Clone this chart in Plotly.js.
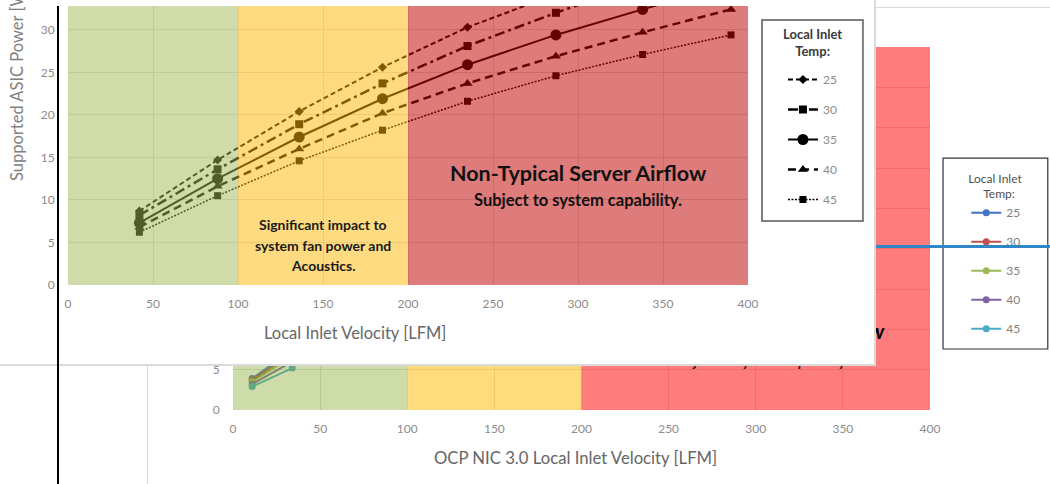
<!DOCTYPE html>
<html><head><meta charset="utf-8">
<script src="https://cdn.plot.ly/plotly-3.0.1.min.js"></script>
<style>
html,body{margin:0;padding:0;width:1050px;height:484px;overflow:hidden;background:#fff;}
#back{position:absolute;left:147px;top:7px;width:903px;height:477px;border-left:1px solid #d9d9d9;border-top:1px solid #d9d9d9;box-sizing:border-box;background:#fff;}
#backPlot{width:902px;height:476px;}
#frontWrap{position:absolute;left:0;top:0;width:876px;height:366px;border-right:2px solid #dadada;border-bottom:2px solid #dadada;box-sizing:border-box;background:#fff;}
#front{width:874px;height:364px;}
#blackline{position:absolute;left:57px;top:6px;width:2px;height:478px;background:#000;}
#blueline{position:absolute;left:876px;top:245px;width:174px;height:3px;background:#2f87c6;}
</style></head>
<body>
<div id="back"><div id="backPlot"></div></div>
<div id="frontWrap"><div id="front"></div></div>
<div id="blackline"></div>
<div id="blueline"></div>
<script>
// ---------- data ----------
const temps = ['25', '30', '35', '40', '45'];
const xTicks = [0, 50, 100, 150, 200, 250, 300, 350, 400];
const zoneEdges = [0, 100, 200, 400];

// front chart (Supported ASIC power vs local inlet velocity)
const frontX = [42, 88, 136, 185, 235, 287, 338, 390];
const front25 = [8.7, 14.7, 20.4, 25.6, 30.3, 34.3, 38.0, 41.5];
const front30 = [8.2, 13.6, 18.9, 23.7, 28.1, 32.0, 35.6, 39.0];
const front35 = [7.3, 12.5, 17.4, 21.9, 25.9, 29.4, 32.4, 35.4];
const front40 = [6.8, 11.6, 16.0, 20.2, 23.7, 26.9, 29.7, 32.4];
const front45 = [6.2, 10.5, 14.6, 18.2, 21.6, 24.6, 27.1, 29.4];
const frontYTicks = [0, 5, 10, 15, 20, 25, 30];

// back chart (OCP NIC 3.0 version)
const backX = [11, 34];
const back25 = [3.9, 7.4];
const back30 = [3.7, 7.0];
const back35 = [3.5, 6.6];
const back40 = [3.2, 6.0];
const back45 = [2.9, 5.2];
const backYTicks = [0, 5, 10, 15, 20, 25, 30, 35, 40, 45];

// ---------- styles ----------
const FONT = 'Lato, "Open Sans", sans-serif';
const NB = '\u00a0';
const frontSeries = [front25, front30, front35, front40, front45];
const frontStyle = [
  {dash: '5px,3px', width: 2, symbol: 'diamond', size: 7},
  {dash: '10px,4px,3px,4px', width: 2.5, symbol: 'square', size: 8},
  {dash: 'solid', width: 2, symbol: 'circle', size: 11},
  {dash: '8px,5px', width: 2.5, symbol: 'triangle-up', size: 9},
  {dash: '2px,1.5px', width: 1.5, symbol: 'square', size: 7}
];
const backSeries = [back25, back30, back35, back40, back45];
const backColors = ['#4472c4', '#c0504d', '#9bbb59', '#8064a2', '#4bacc6'];

// ---------- front chart ----------
const frontTraces = frontSeries.map((ys, i) => ({
  type: 'scatter', mode: 'lines+markers', name: temps[i], legendgroup: 'f' + i,
  x: frontX, y: ys,
  line: {color: '#000', width: frontStyle[i].width, dash: frontStyle[i].dash},
  marker: {color: '#000', symbol: frontStyle[i].symbol, size: frontStyle[i].size}
}));
const frontFills = [
  {fill: 'rgb(159,183,83)', op: 0.5},
  {fill: 'rgb(253,183,1)', op: 0.5},
  {fill: 'rgb(192,1,1)', op: 0.52}
];
const frontShapes = frontFills.map((f, i) => ({
  type: 'rect', xref: 'x', yref: 'paper', x0: zoneEdges[i], x1: zoneEdges[i + 1], y0: 0, y1: 1,
  fillcolor: f.fill, opacity: f.op, line: {width: 0}, layer: 'above'
}));
frontShapes.push({type: 'rect', xref: 'paper', yref: 'paper', x0: 1.0206, x1: 1.169, y0: 0.229, y1: 0.95,
  line: {color: '#7f7f7f', width: 2}, fillcolor: 'rgba(0,0,0,0)', layer: 'above'});

const frontLayout = {
  width: 874, height: 364, margin: {l: 68, r: 126, t: 6, b: 79},
  paper_bgcolor: '#fff', plot_bgcolor: '#fff', font: {family: FONT},
  xaxis: {range: [0, 400], tickvals: xTicks, ticks: 'outside', ticklen: 8, tickcolor: 'rgba(0,0,0,0)',
    showgrid: true, gridcolor: 'rgb(222,222,222)', zeroline: false, showline: false,
    tickfont: {size: 12, color: '#8c8c8c', family: FONT}},
  yaxis: {range: [0, 32.8], tickvals: frontYTicks, ticks: 'outside', ticklen: 10, tickcolor: 'rgba(0,0,0,0)',
    showgrid: true, gridcolor: 'rgb(222,222,222)', zeroline: false, showline: false,
    tickfont: {size: 12, color: '#8c8c8c', family: FONT}},
  showlegend: true,
  legend: {x: 1.0514, xanchor: 'left', y: 0.5215, yanchor: 'middle', bgcolor: 'rgba(0,0,0,0)', borderwidth: 0,
    tracegroupgap: 11, font: {size: 12, color: '#8c8c8c', family: FONT}},
  shapes: frontShapes,
  annotations: [
    {xref: 'paper', yref: 'paper', x: 1.0949, y: 0.8674, xanchor: 'center', yanchor: 'middle', text: '<b>Local Inlet</b><br><b>Temp:</b>', showarrow: false, font: {size: 13, color: '#3a3a3a', family: FONT}},
    {xref: 'x', yref: 'y', x: 150, y: 7.06, text: '<b>Significant impact to</b>', showarrow: false, font: {size: 14, color: '#1a1a1a', family: FONT}},
    {xref: 'x', yref: 'y', x: 150, y: 4.7, text: '<b>system fan power and</b>', showarrow: false, font: {size: 14, color: '#1a1a1a', family: FONT}},
    {xref: 'x', yref: 'y', x: 150, y: 2.35, text: '<b>Acoustics.</b>', showarrow: false, font: {size: 14, color: '#1a1a1a', family: FONT}},
    {xref: 'x', yref: 'y', x: 300, y: 13.2, text: '<b>Non-Typical Server Airflow</b>', showarrow: false, font: {size: 21.5, color: '#111', family: FONT}},
    {xref: 'x', yref: 'y', x: 300, y: 10.0, text: '<b>Subject to system capability.</b>', showarrow: false, font: {size: 16.5, color: '#111', family: FONT}},
    {xref: 'paper', yref: 'paper', x: 0.422, y: -0.172, xanchor: 'center', yanchor: 'middle', text: 'Local Inlet Velocity [LFM]', showarrow: false, font: {size: 16.5, color: '#666', family: FONT}},
    {xref: 'paper', yref: 'paper', x: -0.075, y: 0.724, xanchor: 'center', yanchor: 'middle', text: 'Supported ASIC Power [W]', textangle: -90, showarrow: false, font: {size: 16.5, color: '#808080', family: FONT}}
  ]
};

// ---------- back chart ----------
const backTraces = backSeries.map((ys, i) => ({
  type: 'scatter', mode: 'lines+markers', name: temps[i], legendgroup: 'b' + i,
  x: backX, y: ys,
  line: {color: backColors[i], width: 2},
  marker: {color: backColors[i], symbol: 'circle', size: 7}
}));
const backFills = [
  {fill: 'rgb(130,167,37)', op: 0.4},
  {fill: 'rgb(253,191,20)', op: 0.55},
  {fill: 'rgb(255,17,17)', op: 0.55}
];
const backShapes = backFills.map((f, i) => ({
  type: 'rect', xref: 'x', yref: 'paper', x0: zoneEdges[i], x1: zoneEdges[i + 1], y0: 0, y1: 1,
  fillcolor: f.fill, opacity: f.op, line: {width: 0}, layer: 'above'
}));
backShapes.push({type: 'rect', xref: 'paper', yref: 'paper', x0: 1.0187, x1: 1.169, y0: 0.168, y1: 0.694,
  line: {color: '#333', width: 1.2}, fillcolor: 'rgba(0,0,0,0)', layer: 'above'});

const backLayout = {
  width: 902, height: 476, margin: {l: 85, r: 120, t: 39, b: 74},
  paper_bgcolor: '#fff', plot_bgcolor: '#fff', font: {family: FONT},
  xaxis: {range: [0, 400], tickvals: xTicks, ticks: 'outside', ticklen: 8, tickcolor: 'rgba(0,0,0,0)',
    showgrid: true, gridcolor: 'rgb(220,220,220)', zeroline: false, showline: false,
    tickfont: {size: 12, color: '#8c8c8c', family: FONT}},
  yaxis: {range: [0, 45], tickvals: backYTicks, ticks: 'outside', ticklen: 10, tickcolor: 'rgba(0,0,0,0)',
    showgrid: true, gridcolor: 'rgb(220,220,220)', zeroline: false, showline: false,
    tickfont: {size: 12, color: '#8c8c8c', family: FONT}},
  showlegend: true,
  legend: {x: 1.052, xanchor: 'left', y: 0.6695, yanchor: 'top', bgcolor: 'rgba(0,0,0,0)', borderwidth: 0,
    tracegroupgap: 10, font: {size: 12, color: '#7f7f7f', family: FONT},
    title: {text: 'Local Inlet<br>' + NB.repeat(5) + 'Temp:', side: 'top', font: {size: 12, color: '#505050', family: FONT}}},
  shapes: backShapes,
  annotations: [
    {xref: 'x', yref: 'y', x: 375.3, y: 9.8, xanchor: 'right', text: '<b><i>Non-Typical Server Airflow</i></b>', showarrow: false, font: {size: 21, color: '#000', family: FONT}},
    {xref: 'x', yref: 'y', x: 302, y: 6.25, text: '<b><i>Subject to system capability.</i></b>', showarrow: false, font: {size: 15, color: '#222', family: FONT}},
    {xref: 'paper', yref: 'paper', x: 0.492, y: -0.132, xanchor: 'center', yanchor: 'middle', text: 'OCP NIC 3.0 Local Inlet Velocity [LFM]', showarrow: false, font: {size: 16.7, color: '#666', family: FONT}},
    {xref: 'paper', yref: 'paper', x: -0.085, y: 0.5, xanchor: 'center', yanchor: 'middle', text: 'Supported ASIC Power [W]', textangle: -90, showarrow: false, font: {size: 15, color: '#808080', family: FONT}}
  ]
};

const cfg = {staticPlot: true, displayModeBar: false};
Plotly.newPlot('backPlot', backTraces, backLayout, cfg);
Plotly.newPlot('front', frontTraces, frontLayout, cfg);
</script>
</body></html>
